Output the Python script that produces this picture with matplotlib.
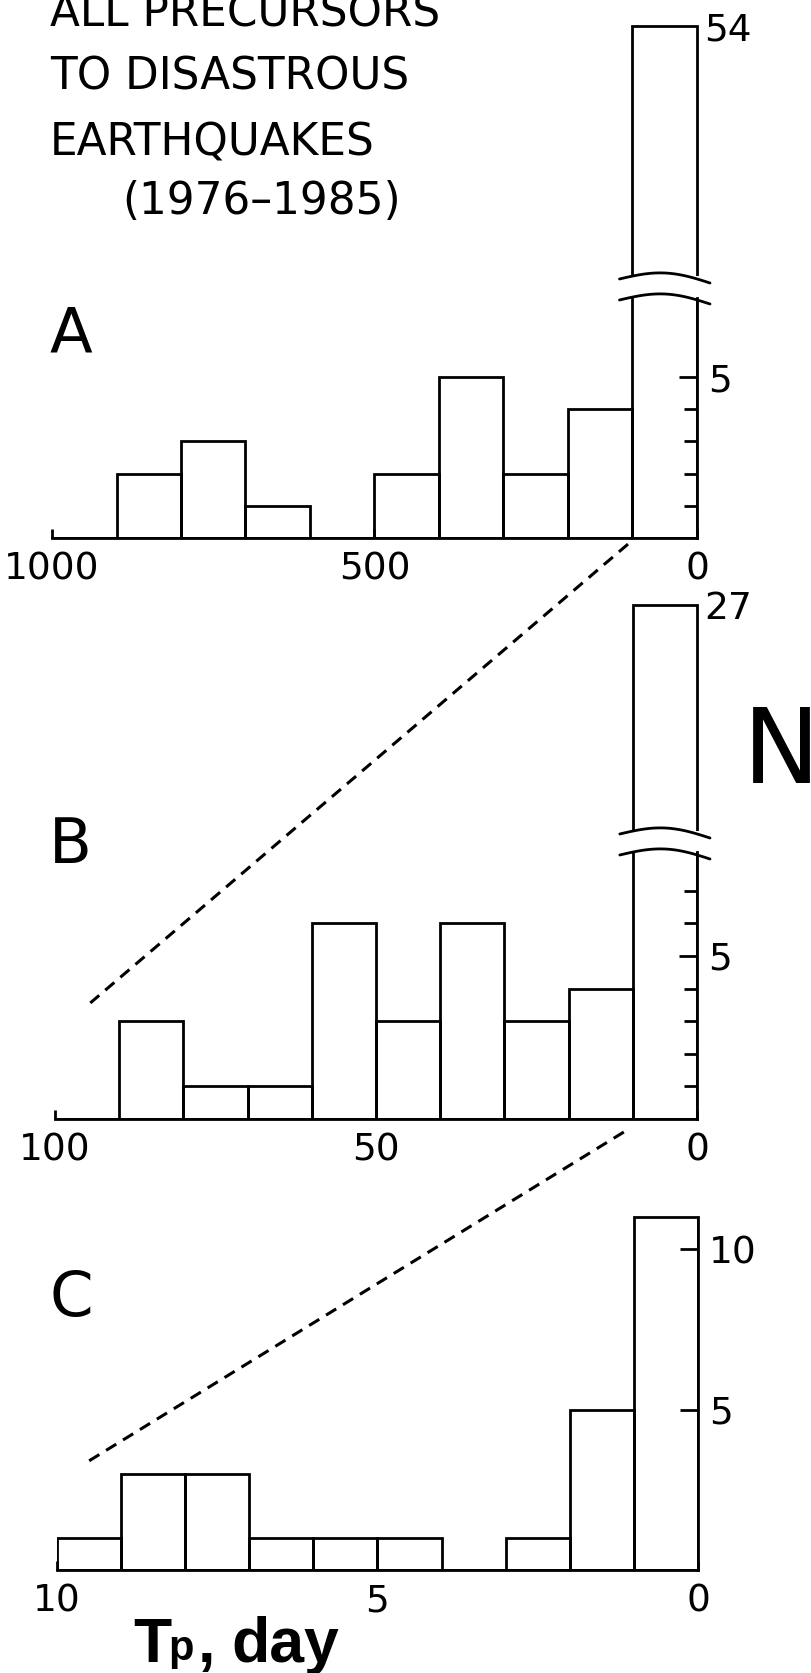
import numpy as np
import matplotlib
matplotlib.use("Agg")
import matplotlib.pyplot as plt
from matplotlib.patches import ConnectionPatch

plt.rcParams["font.family"] = ["DejaVu Sans"]

# histogram bins (days before the quake, oldest bin first) and counts N
edges_a = [1000, 900, 800, 700, 600, 500, 400, 300, 200, 100, 0]
counts_a = [0, 2, 3, 1, 0, 2, 5, 2, 4, 54]
edges_b = [100, 90, 80, 70, 60, 50, 40, 30, 20, 10, 0]
counts_b = [0, 3, 1, 1, 6, 3, 6, 3, 4, 27]
edges_c = [10, 9, 8, 7, 6, 5, 4, 3, 2, 1, 0]
counts_c = [1, 3, 3, 1, 1, 1, 0, 1, 5, 11]

xticks_a = [1000, 500, 0]
xticks_b = [100, 50, 0]
xticks_c = [10, 5, 0]

title_lines = ["ALL PRECURSORS", "TO DISASTROUS", "EARTHQUAKES", "(1976\u20131985)"]
panel_letters = ["A", "B", "C"]

W, H = 812, 1673
LW = 2.0
fig = plt.figure(figsize=(W / 100, H / 100), dpi=100)


def px_axes(x0, y0, x1, y1):
    # pixel box (y measured from the top) -> figure fraction
    return fig.add_axes([x0 / W, 1 - y1 / H, (x1 - x0) / W, (y1 - y0) / H])


def draw_bars(ax, edges, counts):
    centers = [(a + b) / 2 for a, b in zip(edges[:-1], edges[1:])]
    width = edges[0] - edges[1]
    ax.bar(centers, counts, width=width, fill=False, edgecolor="black",
           linewidth=LW)


def lower_panel(box, edges, counts, ymax, major, minor, xticks):
    ax = px_axes(*box)
    draw_bars(ax, edges, counts)
    ax.set_xlim(edges[0], edges[-1])
    ax.set_ylim(0, ymax)
    ax.patch.set_visible(False)
    for s in ["left", "top"]:
        ax.spines[s].set_visible(False)
    for s in ["bottom", "right"]:
        ax.spines[s].set_linewidth(LW)
    ax.yaxis.tick_right()
    ax.set_yticks(major)
    ax.set_yticklabels([str(v) for v in major])
    ax.set_yticks(minor, minor=True)
    ax.tick_params(axis="y", which="major", direction="in", length=13,
                   width=LW, pad=8, labelsize=27)
    ax.tick_params(axis="y", which="minor", direction="in", length=9.5,
                   width=LW)
    ax.set_xticks(xticks)
    ax.set_xticklabels([str(v) for v in xticks])
    ax.tick_params(axis="x", direction="in", length=6.5, width=LW, pad=10,
                   labelsize=27)
    return ax


def upper_panel(x0, x1, top_px, bot_px, edges, counts):
    # part of the tallest bar above the axis break
    pad, side = 8, 10
    ax = px_axes(x0 - side, top_px - pad, x1 + side, bot_px)
    draw_bars(ax, edges, counts)
    per_px = (edges[0] - edges[-1]) / (x1 - x0)
    ax.set_xlim(edges[0] + side * per_px, edges[-1] - side * per_px)
    peak = max(counts)
    span = 10.0
    ax.set_ylim(peak - span, peak + span * pad / (bot_px - top_px))
    ax.patch.set_visible(False)
    for s in ax.spines.values():
        s.set_visible(False)
    ax.set_xticks([])
    ax.yaxis.tick_right()
    ax.set_yticks([peak])
    ax.set_yticklabels([str(peak)])
    ax.tick_params(axis="y", length=0, pad=-2, labelsize=27)
    return ax


axA = lower_panel((52, 298, 697, 538), edges_a, counts_a, 240 / 32.2,
                  [5], [1, 2, 3, 4], xticks_a)
axA_up = upper_panel(52, 697, 26, 276, edges_a, counts_a)

axB = lower_panel((55, 852, 697, 1119), edges_b, counts_b, 267 / 32.6,
                  [5], [1, 2, 3, 4, 6, 7], xticks_b)
axB_up = upper_panel(55, 697, 605, 831, edges_b, counts_b)

axC = lower_panel((57, 1200, 698, 1570), edges_c, counts_c, 370 / 32.1,
                  [5, 10], [], xticks_c)
axC.spines["right"].set_bounds(0, max(counts_c))

# overlay in pixel coordinates for lettering and break marks
deco = fig.add_axes([0, 0, 1, 1])
deco.set_xlim(0, W)
deco.set_ylim(H, 0)
deco.axis("off")
deco.patch.set_visible(False)


def break_arc(ax, edges, y_anchor):
    xl = ax.transData.transform((edges[-2], 0))[0] - 13
    xr = ax.transData.transform((edges[-1], 0))[0] + 13
    t = np.linspace(0, 1, 60)
    deco.plot(xl + t * (xr - xl), y_anchor + 4 * t - 8 * np.sin(np.pi * t),
              color="black", lw=LW, solid_capstyle="round")


break_arc(axA, edges_a, 279)
break_arc(axA, edges_a, 300)
break_arc(axB, edges_b, 834)
break_arc(axB, edges_b, 855)

# dashed lines showing the expanded time window
dash = (0, (3.9, 2.6))
for a_ax, a_xy, b_ax, b_xy in [(axA, (107, -0.19), axB, (94.5, 3.56)),
                               (axB, (11.4, -0.4), axC, (9.5, 3.4))]:
    con = ConnectionPatch(xyA=a_xy, coordsA=a_ax.transData, xyB=b_xy,
                          coordsB=b_ax.transData, linestyle=dash, lw=2.2,
                          color="black", capstyle="butt")
    fig.add_artist(con)

# title
for (x, y), line in zip([(50, 26), (50, 89), (50, 155), (122, 214)],
                        title_lines):
    deco.text(x, y, line, fontsize=31.5, ha="left", va="baseline")

for (x, y), letter in zip([(50, 352), (49, 863), (50, 1316)], panel_letters):
    deco.text(x, y, letter, fontsize=45, ha="left", va="baseline")

deco.text(743, 783, "N", fontsize=74, ha="left", va="baseline")

# x-axis label  T_p , day
lab_font = ["Liberation Sans", "DejaVu Sans"]
deco.text(133, 1662, "T", fontsize=45, fontweight="bold", family=lab_font,
          va="baseline")
deco.text(168, 1660, "p", fontsize=30, fontweight="bold", family=lab_font,
          va="baseline")
deco.text(198, 1662, ",", fontsize=45, fontweight="bold", family=lab_font,
          va="baseline")
deco.text(231, 1662, "day", fontsize=45, fontweight="bold", family=lab_font,
          va="baseline")

fig.savefig("out.png", dpi=100)
